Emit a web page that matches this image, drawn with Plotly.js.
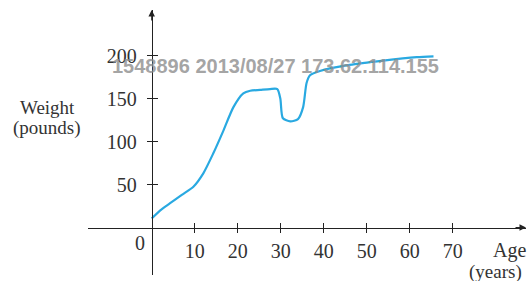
<!DOCTYPE html>
<html>
<head>
<meta charset="utf-8">
<script src="https://cdn.plot.ly/plotly-3.0.1.min.js"></script>
<style>html,body{margin:0;padding:0;background:#fff;}#chart{width:528px;height:281px;}</style>
</head>
<body>
<div id="chart"></div>
<script>
// Data
const ages = [0, 2, 4.2, 7, 9.7, 12, 14.3, 16.7, 19, 21.3, 22.9, 25.2, 27.5, 29.2, 29.9, 30.5, 32.2, 34, 35.2, 36, 36.8, 39.1, 46, 53.8, 61.6, 65.5];
const weights = [10.5, 20, 28, 38, 47.5, 63, 86, 113, 140, 156, 159, 160, 161, 161, 150, 127, 123.5, 126, 140, 168, 177, 182, 189, 194, 198, 199];
const xTicks = [10, 20, 30, 40, 50, 60, 70];
const yTicks = [50, 100, 150, 200];
const watermark = "1548896 2013/08/27 173.62.114.155";

const xRange = [-14.8, 87];
const yRange = [-55.2, 252.9];
const xPos = (0 - yRange[0]) / (yRange[1] - yRange[0]);
const yPos = (0 - xRange[0]) / (xRange[1] - xRange[0]);
const axisColor = '#222';
const serif = {family: 'Liberation Serif, Times New Roman, serif', size: 20, color: '#333'};
const serifSm = {family: 'Liberation Serif, Times New Roman, serif', size: 19, color: '#333'};

const traces = [
  {x: ages, y: weights, type: 'scatter', mode: 'lines',
   line: {color: '#29a9e1', width: 2.2, shape: 'spline', smoothing: 0.7},
   hoverinfo: 'skip', showlegend: false},
  {x: [], y: [], xaxis: 'x2', yaxis: 'y2', type: 'scatter', showlegend: false}
];

const layout = {
  width: 528, height: 281,
  margin: {l: 88, r: 2, t: 10, b: 6},
  paper_bgcolor: '#fff', plot_bgcolor: '#fff',
  showlegend: false,
  xaxis: {range: xRange, showgrid: false, zeroline: false, showline: true, linecolor: axisColor, linewidth: 1,
    anchor: 'free', position: xPos, tickvals: xTicks, ticktext: xTicks.map(String),
    ticks: 'outside', ticklen: 4, tickcolor: axisColor, tickwidth: 1, tickfont: serif, ticklabelstandoff: 1},
  yaxis: {range: yRange, showgrid: false, zeroline: false, showline: true, linecolor: axisColor, linewidth: 1,
    anchor: 'free', position: yPos, tickvals: yTicks, ticktext: yTicks.map(String),
    ticks: 'outside', ticklen: 5, tickcolor: axisColor, tickwidth: 1, tickfont: serif, ticklabelstandoff: 6},
  xaxis2: {range: xRange, overlaying: 'x', anchor: 'free', position: xPos, showgrid: false, zeroline: false,
    showline: false, tickvals: xTicks, ticks: 'inside', ticklen: 5, tickcolor: axisColor, showticklabels: false},
  yaxis2: {range: yRange, overlaying: 'y', anchor: 'free', position: yPos, showgrid: false, zeroline: false,
    showline: false, tickvals: yTicks, ticks: 'inside', ticklen: 5, tickcolor: axisColor, showticklabels: false},
  annotations: [
    {x: xRange[1], y: 0, xref: 'x', yref: 'y', ax: -12, ay: 0, text: '', showarrow: true,
     arrowhead: 2, arrowsize: 1.3, arrowwidth: 1, arrowcolor: axisColor},
    {x: 0, y: yRange[1], xref: 'x', yref: 'y', ax: 0, ay: 12, text: '', showarrow: true,
     arrowhead: 2, arrowsize: 1.3, arrowwidth: 1, arrowcolor: axisColor},
    {x: -2.7, y: -18, xref: 'x', yref: 'y', text: '0', showarrow: false, font: serif, xanchor: 'center', yanchor: 'middle'},
    {x: -0.0936, y: 0.632, xref: 'paper', yref: 'paper', text: 'Weight', showarrow: false, font: serifSm, xanchor: 'center', yanchor: 'middle'},
    {x: -0.0936, y: 0.555, xref: 'paper', yref: 'paper', text: '(pounds)', showarrow: false, font: serifSm, xanchor: 'center', yanchor: 'middle'},
    {x: 0.962, y: 0.0943, xref: 'paper', yref: 'paper', text: 'Age', showarrow: false, font: serif, xanchor: 'center', yanchor: 'middle'},
    {x: 0.93, y: 0.013, xref: 'paper', yref: 'paper', text: '(years)', showarrow: false, font: serifSm, xanchor: 'center', yanchor: 'middle'},
    {x: 0.427, y: 0.789, xref: 'paper', yref: 'paper', text: watermark, showarrow: false,
     font: {family: 'Liberation Sans, Arial, sans-serif', size: 20, color: 'rgba(140,140,140,0.8)', weight: 'bold'},
     xanchor: 'center', yanchor: 'middle'}
  ]
};

Plotly.newPlot('chart', traces, layout, {displayModeBar: false, staticPlot: true});
</script>
</body>
</html>
